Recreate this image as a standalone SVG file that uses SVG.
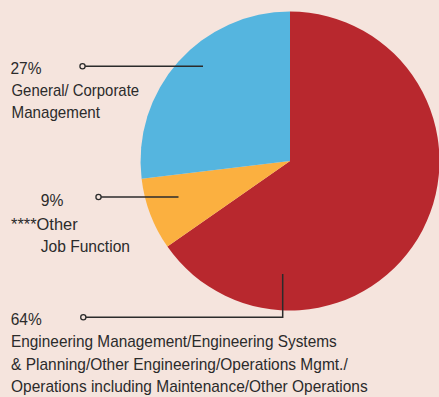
<svg xmlns="http://www.w3.org/2000/svg" width="439" height="397" viewBox="0 0 439 397">
<style>
text{font-family:"Liberation Sans",Arial,sans-serif;font-size:17px;fill:#2b2b2b}
.ln{stroke:#2b2b2b;stroke-width:1.5;fill:none}
.dot{stroke:#2b2b2b;stroke-width:1.3;fill:#f5e4dd}
</style>
<rect width="439" height="397" fill="#f5e4dd"/>
<g id="pie">
<path id="slice-red" d="M290,161 L290,11.5 A149.5,149.5 0 1 1 167.4,246.6 Z" fill="#b8282e"/>
<path id="slice-orange" d="M290,161 L167.4,246.6 A149.5,149.5 0 0 1 141.6,178.7 Z" fill="#fbb040"/>
<path id="slice-blue" d="M290,161 L141.6,178.7 A149.5,149.5 0 0 1 290,11.5 Z" fill="#55b5df"/>
</g>
<g id="connectors">
<path class="ln" d="M85,66.3 H203"/>
<path class="ln" d="M101,197 H178.5"/>
<path class="ln" d="M282.7,274 V317.3 H86"/>
<circle class="dot" cx="82.5" cy="66.3" r="2.6"/>
<circle class="dot" cx="98.5" cy="197" r="2.6"/>
<circle class="dot" cx="83.3" cy="317.3" r="2.6"/>
</g>
<g id="label-27">
<text x="10.5" y="74" textLength="31" lengthAdjust="spacingAndGlyphs">27%</text>
<text x="11.5" y="96" textLength="127.6" lengthAdjust="spacingAndGlyphs">General/ Corporate</text>
<text x="11.5" y="117.7" textLength="88.5" lengthAdjust="spacingAndGlyphs">Management</text>
</g>
<g id="label-9">
<text x="40.7" y="206" textLength="22.6" lengthAdjust="spacingAndGlyphs">9%</text>
<text x="11" y="230" textLength="66.7" lengthAdjust="spacingAndGlyphs">****Other</text>
<text x="40.7" y="252.3" textLength="89.3" lengthAdjust="spacingAndGlyphs">Job Function</text>
</g>
<g id="label-64">
<text x="10.7" y="325" textLength="31" lengthAdjust="spacingAndGlyphs">64%</text>
<text x="11" y="347.3" textLength="325.7" lengthAdjust="spacingAndGlyphs">Engineering Management/Engineering Systems</text>
<text x="11" y="370" textLength="336.7" lengthAdjust="spacingAndGlyphs">&amp; Planning/Other Engineering/Operations Mgmt./</text>
<text x="11" y="391.7" textLength="356.7" lengthAdjust="spacingAndGlyphs">Operations including Maintenance/Other Operations</text>
</g>
</svg>
